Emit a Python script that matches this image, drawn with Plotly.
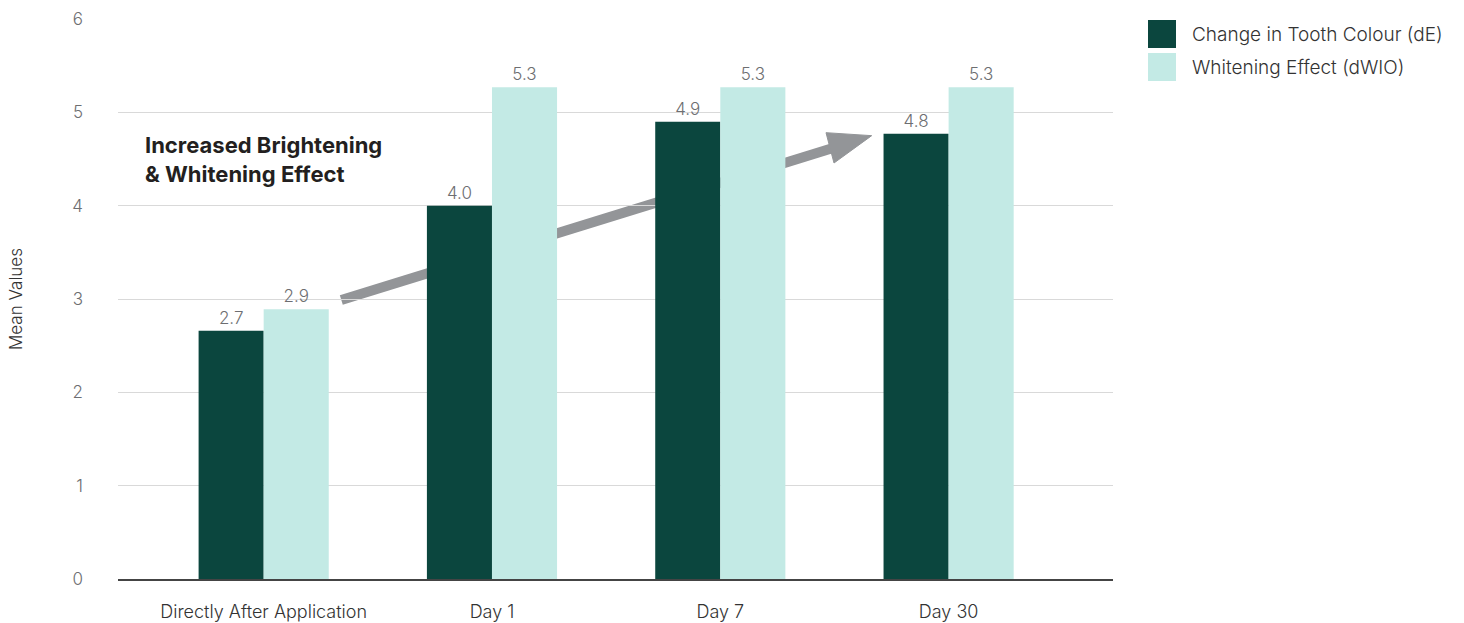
import plotly.graph_objects as go

categories = ["Directly After Application", "Day 1", "Day 7", "Day 30"]
tooth_colour_de = [2.66, 4.0, 4.9, 4.77]
whitening_dwio = [2.89, 5.27, 5.27, 5.27]
series_names = ["Change in Tooth Colour (dE)", "Whitening Effect (dWIO)"]
y_ticks = [0, 1, 2, 3, 4, 5, 6]

DARK = "#0b463e"
LIGHT = "#c3eae5"
FONT = "Inter, Lato, sans-serif"

fig = go.Figure()
for name, vals, col in [(series_names[0], tooth_colour_de, DARK),
                        (series_names[1], whitening_dwio, LIGHT)]:
    fig.add_trace(go.Bar(
        x=categories, y=vals, name=name, marker_color=col, marker_line_width=0,
        text=[f"{v:.1f}" for v in vals], textposition="outside",
        textfont=dict(size=17, color="#6d6e71", family=FONT, weight=300),
        cliponaxis=False,
    ))

# decorative trend arrow (drawn behind bars)
fig.add_shape(type="line", xref="x", yref="y", x0=0.34, y0=2.99, x1=2.49, y1=4.615,
              line=dict(color="#939598", width=10), layer="below")
fig.add_shape(type="path", xref="x", yref="y",
              path="M 2.463 4.782 L 2.663 4.75 L 2.498 4.457 Z",
              fillcolor="#939598", line=dict(color="#939598", width=1), layer="below")

fig.add_annotation(xref="paper", yref="paper", x=(143 - 118) / 995, y=(579 - 130) / 560,
                   xanchor="left", yanchor="top", align="left", showarrow=False,
                   text="<b>Increased Brightening<br>&amp; Whitening Effect</b>",
                   font=dict(size=22, color="#231f20", family=FONT))

# custom legend
legend_y = [34, 67]
for name, col, cy in zip(series_names, [DARK, LIGHT], legend_y):
    fig.add_shape(type="rect", xref="paper", yref="paper",
                  x0=(1148 - 118) / 995, x1=(1176 - 118) / 995,
                  y0=(579 - (cy + 14)) / 560, y1=(579 - (cy - 14)) / 560,
                  fillcolor=col, line_width=0)
    fig.add_annotation(xref="paper", yref="paper", x=(1190 - 118) / 995,
                       y=(579 - cy) / 560, xanchor="left", yanchor="middle",
                       showarrow=False, text=name,
                       font=dict(size=19, color="#333333", family=FONT, weight=300))

fig.update_layout(
    width=1464, height=623,
    margin=dict(l=118, r=351, t=19, b=44, autoexpand=False),
    paper_bgcolor="white", plot_bgcolor="white",
    barmode="group", bargap=0.43, bargroupgap=0,
    showlegend=False,
    font=dict(family=FONT, color="#333333"),
    xaxis=dict(range=[-0.638, 3.72], showgrid=False, showline=True, automargin=False,
               linecolor="#444444", linewidth=1.5, ticks="", ticklabelstandoff=16,
               tickfont=dict(size=18, color="#333333", family=FONT, weight=300)),
    yaxis=dict(range=[0, 6], tickvals=y_ticks, showgrid=True, gridcolor="#d9d9d9",
               gridwidth=1, zeroline=False, showline=False, ticks="", automargin=False,
               ticklabelstandoff=34,
               tickfont=dict(size=17, color="#6d6e71", family=FONT, weight=300),
               title=dict(text="Mean Values", standoff=45,
                          font=dict(size=17, color="#333333", family=FONT, weight=300))),
)

fig.write_html("out.html")
